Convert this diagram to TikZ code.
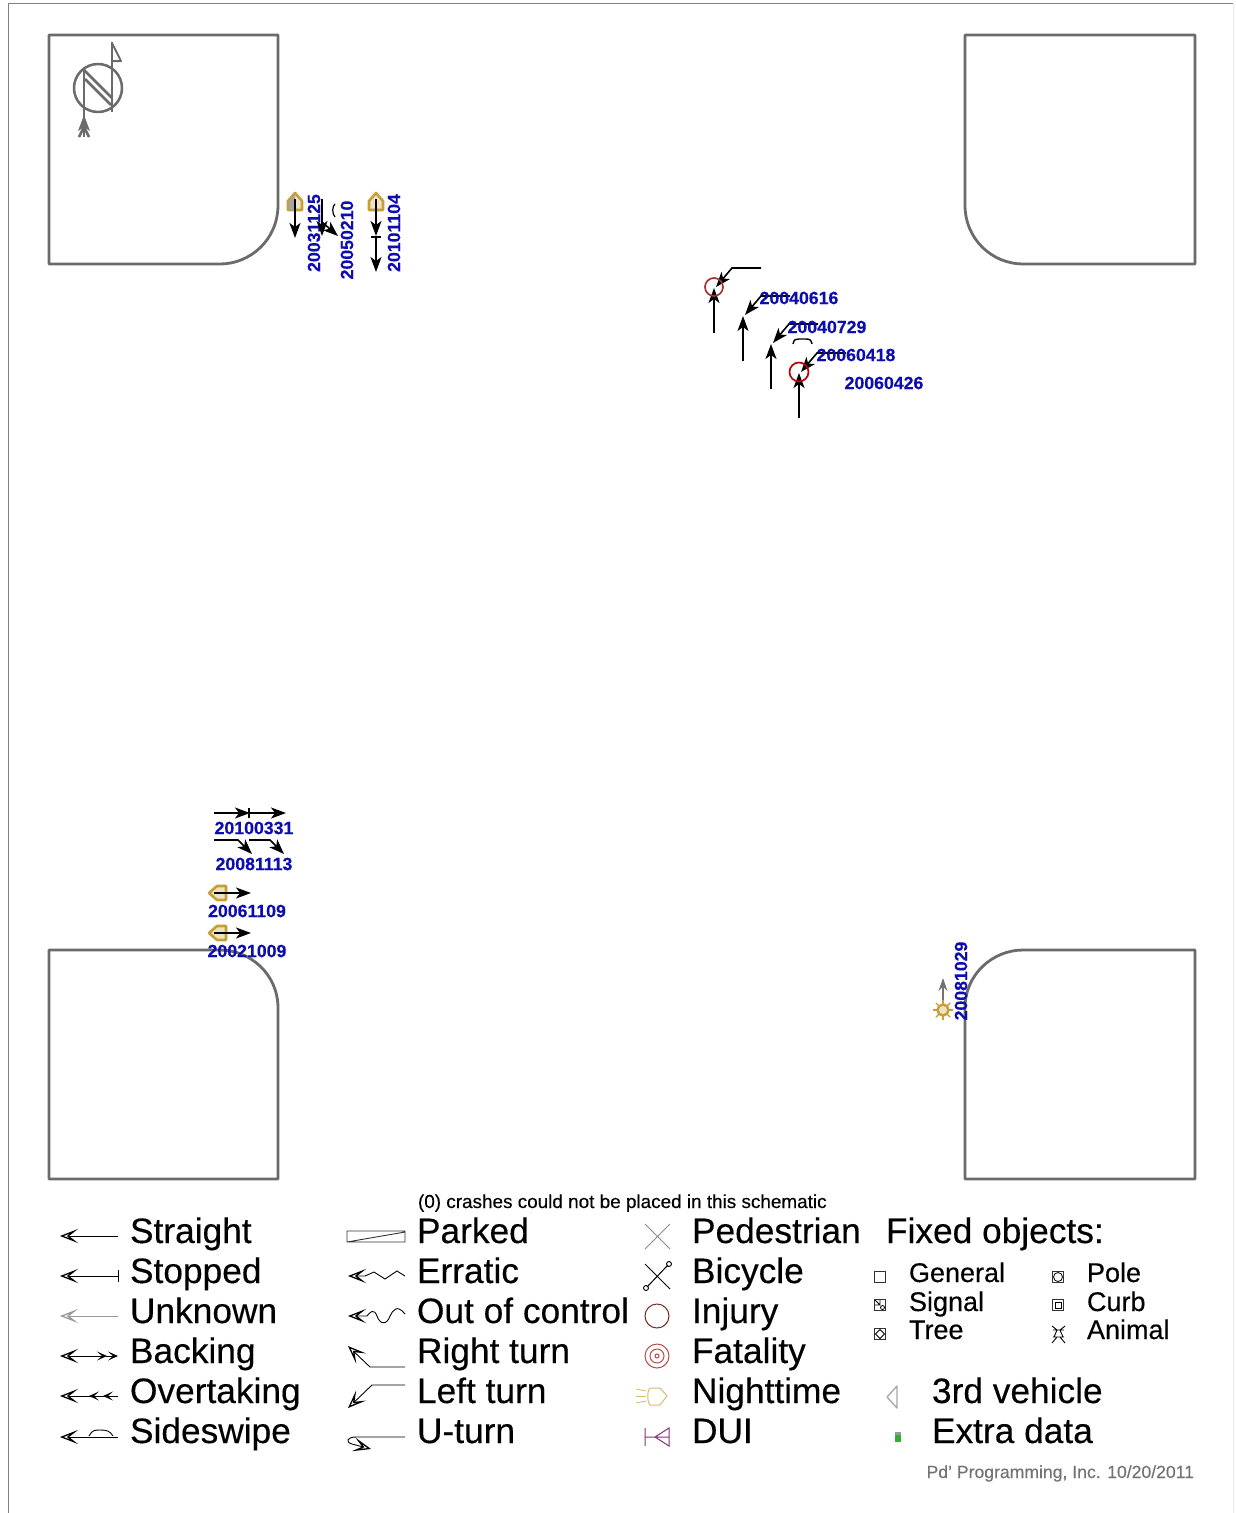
\documentclass[tikz,border=0pt]{standalone}
\usepackage{fontspec}
\setmainfont{Liberation Sans}[FakeBold=0.3]
\usetikzlibrary{arrows.meta,calc}
\definecolor{datablue}{rgb}{0.05,0.05,0.70}
\definecolor{nightgold}{rgb}{0.78,0.62,0.22}
\definecolor{blockgray}{gray}{0.42}
\begin{document}
\begin{tikzpicture}[x=1pt,y=-1pt,
    every node/.style={inner sep=0pt,outer sep=0pt},
    legendtext/.style={anchor=base west,font=\fontsize{35.3}{35}\selectfont},
    fixedtext/.style={anchor=base west,font=\fontsize{27}{27}\selectfont},
    datelabel/.style={font=\bfseries\fontsize{17.7}{17.5}\selectfont,text=datablue},
    block/.style={draw=blockgray,line width=2.8pt,line join=round},
    crash/.style={line width=1.6pt,-{Stealth[length=15pt,width=11pt,inset=4pt]}},
    legendline/.style={line width=0.9pt,-{Stealth[open,length=18pt,width=14pt,inset=9pt,line width=1.3pt]}},
    smalltip/.style={line width=0.9pt,-{Stealth[open,length=10pt,width=9pt,inset=5pt,line width=1.1pt]}},
    night/.pic={
      \draw[nightgold,line width=2.6pt,fill=nightgold!30,line join=round] (-7,8) -- (-7,-1) -- (0,-9) -- (7,-1) -- (7,8) -- cycle;},
    objbox/.style={draw=black!80,line width=0.9pt}]

  \useasboundingbox (0,0) rectangle (1235,1513);
  % page 1235 x 1513 px, 1 px = 1 pt
  \fill[white] (0,0) rectangle (1235,1513);
  \draw[line width=1pt,black!50] (8,1513) -- (8,3) -- (1233,3);
  \draw[line width=1pt,black!8] (1233,3) -- (1233,1513);

  % ── E1 four corner blocks ──
  \draw[block] (49,35) -- (278,35) -- (278,205) .. controls (278,240) and (250,264) .. (220,264) -- (49,264) -- cycle;
  \draw[block] (1195,35) -- (965,35) -- (965,205) .. controls (965,240) and (993,264) .. (1023,264) -- (1195,264) -- cycle;
  \draw[block] (49,1179) -- (278,1179) -- (278,1008) .. controls (278,974) and (250,950) .. (220,950) -- (49,950) -- cycle;
  \draw[block] (1195,1179) -- (965,1179) -- (965,1008) .. controls (965,974) and (993,950) .. (1023,950) -- (1195,950) -- cycle;

  % ── E2 north mark ──
  \begin{scope}[draw=blockgray,line width=2.5pt,line join=round]
    \draw (98,88) circle (24);
    \draw (84,70) -- (84,137);
    \draw (84,70) -- (112,98) (85,79) -- (111,105);
    \draw (112,42) -- (112,112);
    \draw[line width=2pt] (112,43) -- (121,61) -- (112,61);
    \fill[blockgray] (84,115) -- (90,131) -- (84,127) -- (78,131) -- cycle;
    \draw (84,127) -- (79,137) (84,127) -- (89,137);
  \end{scope}

  % ── E3 crashes north of the block ──
  \pic at (295,202) {night};
  \fill[black!35] (289,201) -- (295,194) -- (295,210) -- (289,210) -- cycle;
  \draw[crash] (295,199) -- (295,238);
  \node[datelabel,rotate=90] (d20031125) at (314,233) {20031125};
  \draw[crash] (322,199) -- (322,236);
  \draw[crash] (322,222) -- (338,236);
  \draw[line width=1.2pt] (335,204) .. controls (332,206) and (332,214) .. (335,217);
  \node[datelabel,rotate=90] (d20050210) at (347,240) {20050210};
  \pic at (376,202) {night};
  \draw[crash] (376,199) -- (376,236);
  \draw[line width=1.4pt] (371,237) -- (381,237);
  \draw[crash] (376,237) -- (376,272);
  \node[datelabel,rotate=90] (d20101104) at (394,233) {20101104};

  % ── E4 left turns in the middle ──
  \foreach \x/\y in {714/333, 743/361, 771/389, 799/418}{
    \draw[crash] (\x,\y) -- (\x,\y-45);
    \draw[crash] (\x+47,\y-65) -- (\x+18,\y-65) -- (\x+2,\y-46); }
  \draw[draw=red!55!black!80,line width=1.7pt] (714,287) circle (9);
  \draw[draw=red!75!black,line width=1.7pt] (799,372) circle (9.5);
  \draw[line width=1.4pt] (793,344) .. controls (794,339) and (796,339) .. (799,339) -- (806,339) .. controls (810,339) and (811,340) .. (812,344);
  \node[datelabel] (d20040616) at (799,298) {20040616};
  \node[datelabel] (d20040729) at (827,327) {20040729};
  \node[datelabel] (d20060418) at (856,355) {20060418};
  \node[datelabel] (d20060426) at (884,383) {20060426};

  % ── E5 crashes at the south-west block ──
  \draw[crash] (214,813) -- (250,813);
  \draw[crash] (249,813) -- (286,813);
  \draw[line width=1.4pt] (249,808) -- (249,818);
  \node[datelabel] (d20100331) at (254,828) {20100331};
  \foreach \x/\a in {214/238, 249/270}{
    \draw[crash] (\x,840) -- (\a,840) -- (\a+14,854); }
  \node[datelabel] (d20081113) at (254,864) {20081113};
  \foreach \y/\d in {893/20061109, 933/20021009}{
    \pic[rotate=90] at (218,\y) {night};
    \draw[crash] (214,\y) -- (251,\y);
    \node[datelabel] (d\d) at (247,\y+18) {\d}; }

  % ── E6 crash at the south-east block ──
  \draw[-{Stealth[length=13pt,width=9pt]},line width=1.4pt,black!55] (943,1002) -- (943,978);
  \draw[nightgold,line width=2.4pt,fill=nightgold!30] (943,1010) circle (5.5);
  \foreach \a in {0,45,...,359}{
    \draw[nightgold,line width=1.4pt] (943,1010) ++(\a:6) -- ++(\a:4); }
  \node[datelabel,rotate=90] (d20081029) at (961,981) {20081029};

  % ── E7 legend, first column ──
  \node[anchor=base west,font=\fontsize{18.9}{18.9}\selectfont] (notplaced) at (418,1208) {(0) crashes could not be placed in this schematic};
  \foreach \y/\t in {1243/Straight, 1283/Stopped, 1323/Unknown, 1363/Backing, 1403/Overtaking, 1443/Sideswipe}{
    \node[legendtext] (l\t) at (130,\y) {\t}; }
  \draw[legendline] (118,1236) -- (60,1236);
  \draw[legendline] (118,1276) -- (60,1276);
  \draw[line width=0.9pt] (118,1270) -- (118,1282);
  \draw[legendline,black!40] (118,1316) -- (60,1316);
  \draw[legendline] (98,1356) -- (60,1356);
  \draw[smalltip] (96,1356) -- (107,1356);
  \draw[smalltip] (106,1356) -- (118,1356);
  \draw[legendline] (118,1396) -- (60,1396);
  \draw[smalltip] (104,1396) -- (89,1396);
  \draw[smalltip] (117,1396) -- (103,1396);
  \draw[legendline] (118,1437) -- (60,1437);
  \draw[line width=0.9pt] (89,1436) .. controls (92,1430) and (95,1430) .. (100,1430) .. controls (107,1430) and (110,1431) .. (113,1436);

  % ── E8 legend, second column ──
  \foreach \y/\t in {1243/Parked, 1283/Erratic, 1323/Out of control, 1363/Right turn, 1403/Left turn, 1443/U-turn}{
    \node[legendtext] (l\t) at (417,\y) {\t}; }
  \draw[line width=0.9pt,black!80] (347,1231) rectangle (405,1242) (347,1242) -- (405,1232);
  \draw[legendline] (405,1276) -- (397,1271) -- (385,1279) -- (374,1272) -- (365,1276) -- (348,1276);
  \draw[legendline] (405,1314) .. controls (397,1304) and (393,1310) .. (390,1316) .. controls (387,1325) and (380,1325) .. (377,1316) .. controls (374,1308) and (370,1312) .. (367,1316) -- (348,1316);
  \draw[legendline] (405,1367) -- (370,1367) -- (348,1346);
  \draw[legendline] (405,1385) -- (372,1385) -- (348,1408);
  \draw[legendline] (405,1437) -- (356,1437) .. controls (347,1437) and (345,1442) .. (352,1444) -- (371,1449);

  % ── E9 legend, third column ──
  \foreach \y/\t in {1243/Pedestrian, 1283/Bicycle, 1323/Injury, 1363/Fatality, 1403/Nighttime, 1443/DUI}{
    \node[legendtext] (l\t) at (692,\y) {\t}; }
  \draw[line width=1pt,black!45] (645,1224) -- (670,1249) (670,1224) -- (645,1249);
  \draw[line width=1pt] (645,1264) -- (670,1289) (647,1287) -- (668,1265);
  \draw[line width=0.9pt] (646,1288) circle (2.5) (669,1264) circle (2.5);
  \draw[line width=1pt,draw=black!55!red!70!gray] (657,1316) circle (12);
  \draw[line width=1pt,draw=black!40!red!70] (657,1356) circle (12) (657,1356) circle (7) (657,1356) circle (2);
  \draw[line width=1pt,draw=nightgold!70] (650,1388) -- (660,1388) -- (667,1396) -- (660,1405) -- (650,1405) .. controls (647,1402) and (647,1391) .. (650,1388);
  \foreach \a/\b in {1389/1391, 1396/1396, 1403/1401}{
    \draw[line width=0.9pt,draw=nightgold!70] (636,\a) -- (646,\b); }
  \draw[line width=1pt,draw=violet!60!gray] (645,1428) -- (645,1446) (645,1437) -- (669,1437) (669,1428) -- (669,1446) -- (655,1437) -- cycle;

  % ── E10 fixed objects ──
  \node[legendtext] (lfixed) at (886,1243) {Fixed objects:};
  \foreach \x/\y/\t in {909/1282/General, 909/1311/Signal, 909/1339/Tree, 1087/1282/Pole, 1087/1311/Curb, 1087/1339/Animal}{
    \node[fixedtext] (l\t) at (\x,\y) {\t}; }
  \foreach \x/\y in {880/1277, 880/1305, 880/1334, 1058/1277, 1058/1305}{
    \draw[objbox] (\x-5.5,\y-5.5) rectangle (\x+5.5,\y+5.5); }
  \draw[line width=0.8pt] (880,1300) -- (880,1305) -- (875,1305) (875,1300) -- (880,1305) (882.5,1307.5) circle (2);
  \draw[line width=0.8pt] (880,1329.5) -- (884.5,1334) -- (880,1338.5) -- (875.5,1334) -- cycle;
  \draw[line width=0.8pt] (1058,1277) circle (4.5);
  \draw[line width=0.8pt] (1055,1302) rectangle (1061,1308);
  \draw[line width=0.9pt] (1052,1326) -- (1057,1330) (1065,1326) -- (1060,1330) (1053,1330) -- (1064,1330)
    (1053,1337) -- (1064,1337) (1057,1330) -- (1054,1337) (1060,1330) -- (1063,1337)
    (1057,1337) -- (1052,1343) (1060,1337) -- (1065,1343);

  % ── E11 last two symbols and the footer ──
  \node[legendtext] (lthird) at (932,1403) {3rd vehicle};
  \node[legendtext] (lextra) at (932,1443) {Extra data};
  \draw[line width=1.3pt,draw=black!35,line join=round] (897,1386) -- (887,1397) -- (897,1408) -- cycle;
  \fill[black!40] (895,1432) rectangle (901,1435);
  \fill[green!60!black!80] (895,1435) rectangle (901,1442);
  \node[anchor=base east,font=\fontsize{17.6}{18}\selectfont,text=black!55] (lfooter) at (1194,1478) {Pd' Programming, Inc. 10/20/2011};
\end{tikzpicture}
\end{document}
